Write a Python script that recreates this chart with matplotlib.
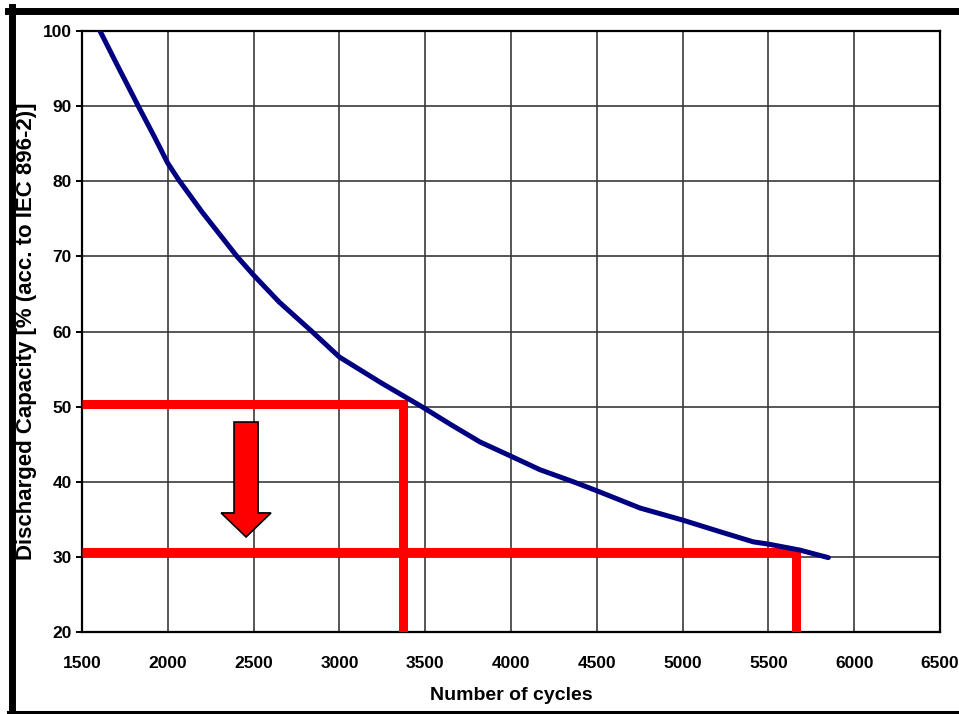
import numpy as np
import matplotlib
matplotlib.use("Agg")
import matplotlib.pyplot as plt
from matplotlib.lines import Line2D
from matplotlib.patches import FancyArrow

# ---------- DATA ----------
cycles = [1605, 1700, 1828, 1920, 2000, 2063, 2200, 2403, 2500, 2650, 2840,
          3000, 3248, 3480, 3650, 3819, 4000, 4169, 4363, 4500, 4752, 5000,
          5218, 5412, 5500, 5684, 5849]
capacity = [100, 95.7, 90, 86.0, 82.4, 80.2, 75.9, 70, 67.5, 63.9, 60,
            56.6, 53.1, 50, 47.6, 45.3, 43.4, 41.6, 40.0, 38.8, 36.5, 34.9,
            33.35, 32.0, 31.7, 30.9, 29.9]

# red guide lines: (capacity level, cycle count)
guide_levels = [50.3, 30.6]
guide_cycles = [3368, 5658]

# arrow: x centre, top, tip (data units)
arrow_x = 2456
arrow_top = 47.95
arrow_tip = 32.65

x_ticks = [1500, 2000, 2500, 3000, 3500, 4000, 4500, 5000, 5500, 6000, 6500]
y_ticks = [20, 30, 40, 50, 60, 70, 80, 90, 100]

# ---------- STYLE ----------
plt.rcParams['font.family'] = ['Liberation Sans', 'DejaVu Sans']
plt.rcParams['font.weight'] = 'bold'

W, H = 959, 714
fig = plt.figure(figsize=(W / 100, H / 100), dpi=100)
fig.patch.set_facecolor('white')

# axes box in pixels: left 82, right 940, top 31, bottom 632
ax = fig.add_axes([82 / W, 1 - 632 / H, (940 - 82) / W, (632 - 31) / H])

ax.set_xlim(1500, 6500)
ax.set_ylim(20, 100)
ax.set_xticks(x_ticks)
ax.set_yticks(y_ticks)
ax.grid(True, color='#3a3a3a', lw=1.2)
ax.set_axisbelow(True)
for s in ax.spines.values():
    s.set_color('black')
    s.set_linewidth(1.6)

ax.tick_params(axis='x', length=0, pad=17.5, labelsize=12.5)
ax.tick_params(axis='y', length=4.3, width=1.4, pad=3, labelsize=12.5)
for lab in ax.get_xticklabels() + ax.get_yticklabels():
    lab.set_fontweight('bold')

ax.set_xlabel('Number of cycles', fontsize=14, fontweight='bold', labelpad=11)
ax.set_ylabel('Discharged Capacity [% (acc. to IEC 896-2)]', fontsize=16,
              fontweight='bold', labelpad=4)

# red guide lines
for lvl, cyc in zip(guide_levels, guide_cycles):
    ax.plot([1500, cyc, cyc], [lvl, lvl, 20], color='#ff0000', lw=6.5,
            solid_joinstyle='miter', solid_capstyle='butt', zorder=3,
            clip_on=True)

# capacity curve
ax.plot(cycles, capacity, color='#000080', lw=3.6, zorder=4,
        solid_capstyle='round', solid_joinstyle='round')

# red down arrow
arr = FancyArrow(arrow_x, arrow_top, 0, arrow_tip - arrow_top, width=140,
                 head_width=291, head_length=3.2, length_includes_head=True,
                 facecolor='#ff0000', edgecolor='black', lw=1.2, zorder=5)
ax.add_patch(arr)

# outer black frame (right side falls outside the image)
fig.add_artist(Line2D([11.5 / W, 11.5 / W], [0, 1 - 7 / H],
                      transform=fig.transFigure, color='black', lw=5))
fig.add_artist(Line2D([8 / W, 1], [1 - 10.5 / H, 1 - 10.5 / H],
                      transform=fig.transFigure, color='black', lw=5))
fig.add_artist(Line2D([8 / W, 1], [1 - 711.5 / H, 1 - 711.5 / H],
                      transform=fig.transFigure, color='black', lw=2.2))

fig.savefig('out.png', dpi=100, facecolor='white')
